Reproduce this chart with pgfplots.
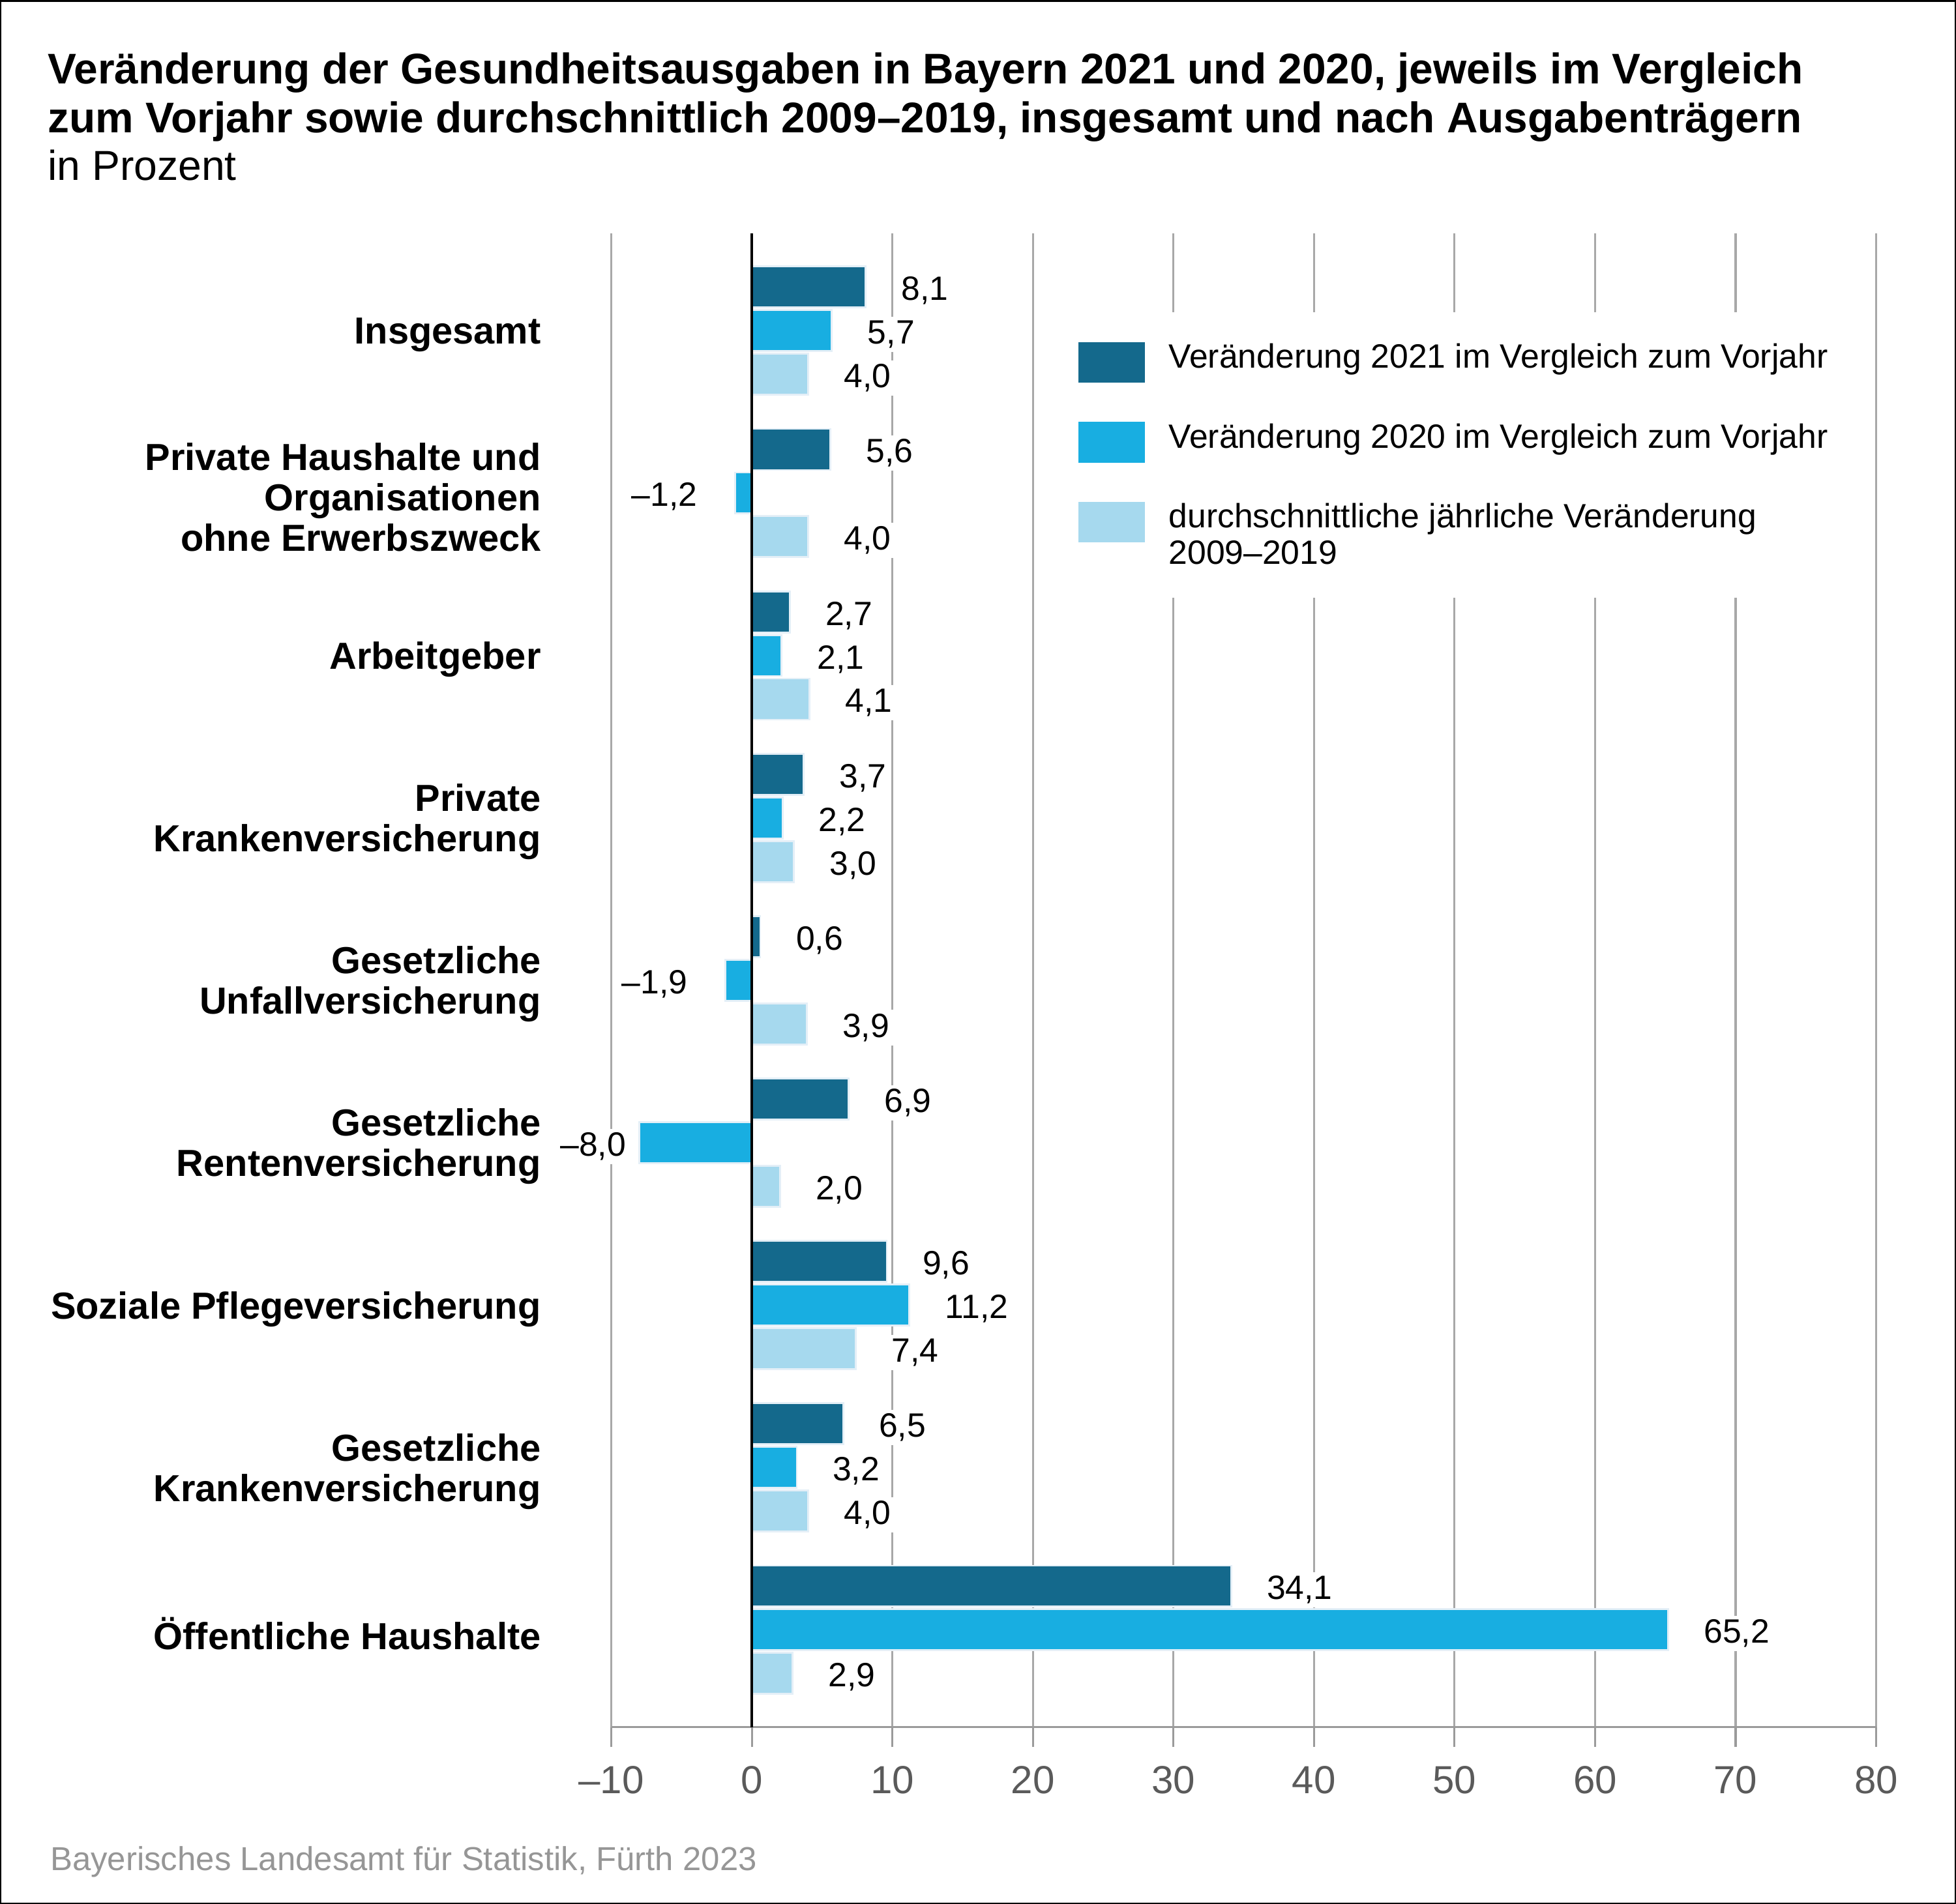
\documentclass[border=0pt]{standalone}
\usepackage{fontspec}
\setmainfont{Liberation Sans}
\usepackage{pgfplots}
\pgfplotsset{compat=1.18}
\definecolor{c21}{RGB}{20,105,140}
\definecolor{c20}{RGB}{24,174,225}
\definecolor{cavg}{RGB}{166,217,238}
\definecolor{gridgray}{RGB}{168,168,168}
\definecolor{axisgray}{RGB}{155,155,155}
\definecolor{tickgray}{RGB}{90,90,90}
\definecolor{srcgray}{RGB}{150,150,150}
\definecolor{barborder}{RGB}{228,239,247}
\newcommand\catfont{\fontsize{15.1}{16.2}\selectfont\bfseries}
\newcommand\valfont{\fontsize{13.5}{16}\selectfont}
\newcommand\legfont{\fontsize{13.5}{14.7}\selectfont}
\newcommand\tickfont{\fontsize{15.7}{18}\selectfont}
\begin{document}
\begin{tikzpicture}
\useasboundingbox (0,0) rectangle (784pt,763.35pt);
\draw[line width=0.5pt] (0.25pt,0.25pt) rectangle (783.75pt,763.1pt);
\draw[line width=0.9pt] (0,762.9pt) -- (784pt,762.9pt);
\node[anchor=base west, inner sep=0pt] at (19pt,729.8pt)
  {\fontsize{17.2}{19.6}\selectfont\bfseries Veränderung der Gesundheitsausgaben in Bayern 2021 und 2020, jeweils im Vergleich};
\node[anchor=base west, inner sep=0pt] at (19pt,710.2pt)
  {\fontsize{17.2}{19.6}\selectfont\bfseries zum Vorjahr sowie durchschnittlich 2009–2019, insgesamt und nach Ausgabenträgern};
\node[anchor=base west, inner sep=0pt] at (19pt,691.05pt)
  {\fontsize{16.8}{19.6}\selectfont in Prozent};
\node[anchor=base west, inner sep=0pt, text=srcgray] at (20pt,13.55pt)
  {\fontsize{13.3}{15}\selectfont Bayerisches Landesamt für Statistik, Fürth 2023};
\begin{axis}[
  at={(245pt,70.85pt)}, anchor=south west,
  scale only axis, width=507pt, height=599pt,
  xmin=-10, xmax=80, ymin=-0.6, ymax=8.6,
  clip=false,
  axis x line*=bottom, axis y line*=left,
  y axis line style={draw=none},
  x axis line style={draw=axisgray, line width=0.8pt},
  xtick={-10,0,...,80},
  xticklabels={–10,0,10,20,30,40,50,60,70,80},
  xticklabel style={font=\tickfont, text=tickgray, anchor=base, yshift=-18.5pt, inner sep=0pt},
  xmajorgrids, grid style={draw=gridgray, line width=0.8pt},
  tick align=outside, major tick length=8pt,
  xtick style={draw=axisgray, line width=0.8pt},
  ytick={0,...,8}, ytick style={draw=none},
  yticklabels={Öffentliche Haushalte,{Gesetzliche\\Krankenversicherung},Soziale Pflegeversicherung,{Gesetzliche\\Rentenversicherung},{Gesetzliche\\Unfallversicherung},{Private\\Krankenversicherung},Arbeitgeber,{Private Haushalte und\\Organisationen\\ohne Erwerbszweck},Insgesamt},
  yticklabel style={font=\catfont, align=right, anchor=east, inner sep=0pt, xshift=-20pt, yshift=-1.6pt},
  /pgf/number format/.cd, use comma, fixed, fixed zerofill, precision=1, assume math mode=true,
  /pgfplots/.cd,
  legend style={at={(0.3452,0.9474)}, anchor=north west, fill=white, draw=none,
    inner sep=12pt, row sep=15.75pt, column sep=9.5pt, font=\legfont,
    cells={anchor=north west, align=left, inner sep=0pt},
    nodes={inner sep=0pt}},
  barstyle/.style={xbar, bar width=16.45pt, bar shift=0pt, draw=barborder, line width=0.75pt,
    point meta=x, nodes near coords,
    every node near coord/.append style={font=\valfont, text=black, fill=white, inner xsep=2pt, inner ysep=1.5pt, yshift=-1.5pt}},
  posstyle/.style={barstyle, every node near coord/.append style={anchor=west, xshift=12pt}},
]
\addplot[posstyle, fill=c21,
  legend image code/.code={\fill[c21] (0pt,0pt) rectangle (26pt,-15.5pt);}]
  coordinates {(8.1,8.2687) (5.6,7.2687) (2.7,6.2687) (3.7,5.2687) (0.6,4.2687) (6.9,3.2687) (9.6,2.2687) (6.5,1.2687) (34.1,0.2687)};
\addlegendentry{Veränderung 2021 im Vergleich zum Vorjahr}
\addplot[posstyle, fill=c20,
  legend image code/.code={\fill[c20] (0pt,0pt) rectangle (26pt,-15.5pt);}]
  coordinates {(5.7,8) (2.1,6) (2.2,5) (11.2,2) (3.2,1) (65.2,0)};
\addlegendentry{Veränderung 2020 im Vergleich zum Vorjahr}
\addplot[posstyle, fill=cavg,
  legend image code/.code={\fill[cavg] (0pt,0pt) rectangle (26pt,-15.5pt);}]
  coordinates {(4.0,7.7313) (4.0,6.7313) (4.1,5.7313) (3.0,4.7313) (3.9,3.7313) (2.0,2.7313) (7.4,1.7313) (4.0,0.7313) (2.9,-0.2687)};
\addlegendentry{durchschnittliche jährliche Veränderung\\2009–2019}
\addplot[barstyle, fill=c20, forget plot, point meta=explicit symbolic,
  every node near coord/.append style={anchor=east, xshift=-12.75pt}]
  coordinates {(-1.2,7) [–1,2] (-1.9,4) [–1,9]};
\addplot[barstyle, fill=c20, forget plot, point meta=explicit symbolic,
  every node near coord/.append style={anchor=east, xshift=-3pt}]
  coordinates {(-8.0,3) [–8,0]};
\addplot[black, line width=1pt, forget plot] coordinates {(0,-0.6) (0,8.6)};
\end{axis}
\end{tikzpicture}
\end{document}
